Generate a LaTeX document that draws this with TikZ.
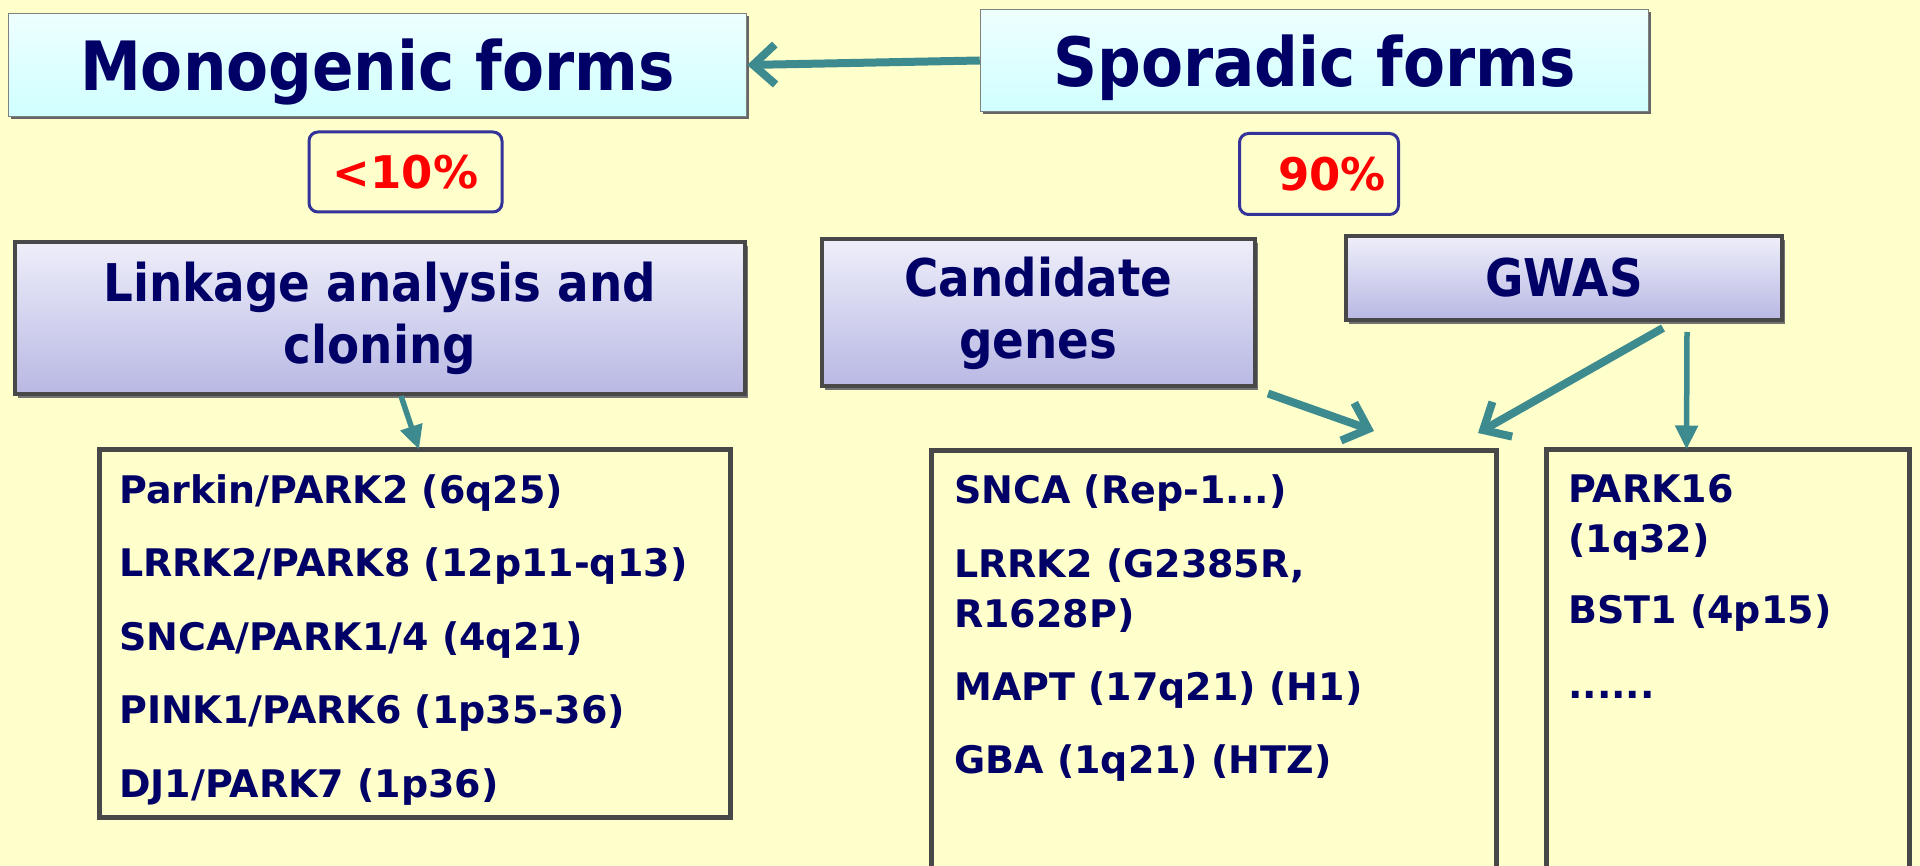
\documentclass[tikz,border=0pt]{standalone}
\usepackage{fontspec}
\setmainfont{DejaVu Sans}
\newfontfamily\condfont{DejaVu Sans Condensed}
\definecolor{pdyellow}{RGB}{255, 255, 204}
\definecolor{pdnavy}{RGB}{0, 0, 102}
\definecolor{pdteal}{RGB}{62, 139, 143}
\definecolor{pdcyantop}{RGB}{238, 255, 255}
\definecolor{pdcyanbot}{RGB}{208, 255, 255}
\definecolor{pdlavtop}{RGB}{238, 238, 250}
\definecolor{pdlavbot}{RGB}{184, 184, 228}
\definecolor{pdframe}{RGB}{72, 72, 72}
\definecolor{pdpct}{RGB}{51, 51, 153}
\usepackage{tikz}
\usetikzlibrary{arrows.meta, positioning, shadows}

\begin{document}
\begin{tikzpicture}[x=1pt, y=-1pt,
    formbox/.style={draw=black!50, line width=1.5pt, inner sep=0pt,
                    top color=pdcyantop, bottom color=pdcyanbot,
                    drop shadow={shadow xshift=2pt, shadow yshift=-3pt, fill=black!60, opacity=1},
                    text=pdnavy, font=\condfont\fontsize{68}{80}\selectfont\bfseries,
                    text height=52pt, text depth=0pt},
    pctbox/.style={draw=pdpct, line width=3pt, rounded corners=9pt, fill=pdyellow,
                   inner sep=0pt, text=red, font=\fontsize{45}{54}\selectfont\bfseries},
    methbox/.style={draw=pdframe, line width=4pt, inner sep=0pt, align=center,
                    top color=pdlavtop, bottom color=pdlavbot,
                    drop shadow={shadow xshift=3pt, shadow yshift=-4pt, fill=black!55, opacity=1},
                    text=pdnavy, font=\condfont\fontsize{52}{62}\selectfont\bfseries},
    listbox/.style={draw=pdframe, line width=5pt, inner sep=0pt, outer sep=0pt, anchor=north west},
    genes/.style={text=pdnavy, align=left, inner sep=0pt,
                  font=\fontsize{38}{50}\selectfont\bfseries},
    bigarr/.style={pdteal, line width=8pt, -{Straight Barb[length=22pt, width=40pt]}},
    thinarr/.style={pdteal, line width=5.5pt, -{Triangle[length=24pt, width=22pt]}}
  ]
    \fill[pdyellow] (0,0) rectangle (1920,866);
    \useasboundingbox (0,0) rectangle (1920,866);

    \node[formbox, minimum width=738pt, minimum height=103pt] (mono) at (377.5,65) {Monogenic forms};
    \node[formbox, minimum width=668pt, minimum height=102pt] (spor) at (1314.5,60.5) {Sporadic forms};
    \node[pctbox, minimum width=193pt, minimum height=80pt] (pctmono) at (405.5,172) {<10\%};
    \node[pctbox, minimum width=159pt, minimum height=81pt] (pctspor) at (1319,174) {\hspace*{26pt}90\%};

    \node[methbox, minimum width=730pt, minimum height=152pt] (link) at (380,318)
      {Linkage analysis and\\cloning};
    \node[methbox, minimum width=433pt, minimum height=147pt] (cand) at (1038.5,313)
      {Candidate\\genes};
    \node[methbox, minimum width=436pt, minimum height=84pt] (gwas) at (1564,278) {GWAS};

    \node[listbox, minimum width=631pt, minimum height=368pt] (list1) at (99.5,449.5) {};
    \node[listbox, minimum width=565pt, minimum height=440pt] (list2) at (931.5,450.5) {};
    \node[listbox, minimum width=363pt, minimum height=440pt] (list3) at (1546.5,449.5) {};

    \node[genes, below right=24.5pt and 19.5pt of list1.north west] (mono genes)
      {Parkin/PARK2 (6q25)\\[23.5pt]LRRK2/PARK8 (12p11-q13)\\[23.5pt]SNCA/PARK1/4 (4q21)\\[23.5pt]%
       PINK1/PARK6 (1p35-36)\\[23.5pt]DJ1/PARK7 (1p36)};
    \node[genes, below right=23.5pt and 22.5pt of list2.north west] (cand genes)
      {SNCA (Rep-1...)\\[24pt]LRRK2 (G2385R,\\R1628P)\\[23pt]MAPT (17q21) (H1)\\[23pt]GBA (1q21) (HTZ)};
    \node[genes, below right=25pt and 21.5pt of list3.north west] (gwas genes)
      {PARK16\\(1q32)\\[21pt]BST1 (4p15)\\[25pt]......};

    \coordinate (candend) at (1374,431);
    \coordinate (gwasend) at (1478,433);

    \draw[bigarr] (spor.west) -- (mono.east);
    \draw[thinarr] ([xshift=21pt]link.south) -- ([xshift=4pt]list1.north);
    \draw[bigarr] ([xshift=11pt, yshift=-5pt]cand.south east) -- (candend);
    \draw[bigarr] ([xshift=-121pt, yshift=-6pt]gwas.south east) -- (gwasend);
    \draw[thinarr] ([xshift=123pt, yshift=-10pt]gwas.south) -- ([xshift=-41.5pt]list3.north);
  \end{tikzpicture}
\end{document}
